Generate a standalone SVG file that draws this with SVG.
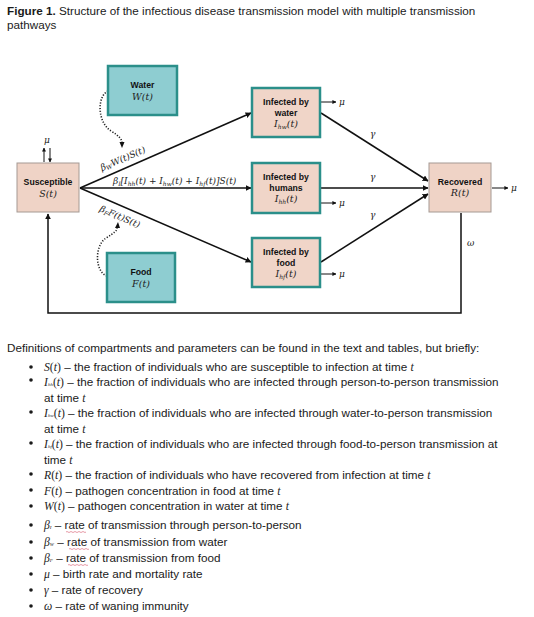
<svg xmlns="http://www.w3.org/2000/svg" width="534" height="617" viewBox="0 0 534 617">
<style>
.t{font-family:"Liberation Sans",Arial,sans-serif;font-size:11.7px;fill:#1a1a1a}
.b{font-weight:bold}
.lab{font-family:"Liberation Sans",Arial,sans-serif;font-size:8.7px;font-weight:bold;fill:#111;text-anchor:middle}
.m{font-family:"DejaVu Serif","Liberation Serif",serif;font-style:italic;font-size:9px;fill:#222}
.mb{font-family:"DejaVu Serif","Liberation Serif",serif;font-style:italic;font-size:9.5px;fill:#222;text-anchor:middle}
.mm{font-family:"Liberation Serif","DejaVu Serif",serif;font-style:italic;fill:#222}
.up{font-style:normal}
.sub{font-size:6px}
.sub2{font-size:5px}
.env{fill:#8ecdd1;stroke:#2b8f8a;stroke-width:2.5}
.inf{fill:#f0d5c8;stroke:#2b8f8a;stroke-width:2.5}
.sr{fill:#efd3c6;stroke:#a59a94;stroke-width:1}
.e{fill:none;stroke:#111;stroke-width:1.5}
.e1{fill:none;stroke:#111;stroke-width:1}
.dot{fill:none;stroke:#222;stroke-width:1.6;stroke-dasharray:1.2 1.6}
.sq{fill:none;stroke:#e08090;stroke-width:0.8}
</style>
<defs>
<marker id="ah" viewBox="0 0 10 10" refX="9" refY="5" markerWidth="4" markerHeight="4" orient="auto" markerUnits="strokeWidth">
<path d="M0,0 L10,5 L0,10 z" fill="#111"/>
</marker>
<marker id="ahs" viewBox="0 0 10 10" refX="9" refY="5" markerWidth="4" markerHeight="4" orient="auto">
<path d="M0,0 L10,5 L0,10 z" fill="#111"/>
</marker>
</defs>
<rect width="534" height="617" fill="#fff"/>

<text class="t" x="7" y="15"><tspan class="b">Figure 1.</tspan> Structure of the infectious disease transmission model with multiple transmission</text>
<text class="t" x="7" y="29">pathways</text>

<g id="connectors">
<line class="e" x1="80" y1="188" x2="251" y2="113" marker-end="url(#ah)"/>
<line class="e" x1="80" y1="188" x2="251" y2="188" marker-end="url(#ah)"/>
<line class="e" x1="80" y1="188" x2="251" y2="262" marker-end="url(#ah)"/>
<line class="e" x1="321" y1="113" x2="428" y2="181" marker-end="url(#ah)"/>
<line class="e" x1="321" y1="188" x2="428" y2="188" marker-end="url(#ah)"/>
<line class="e" x1="321" y1="262" x2="428" y2="194" marker-end="url(#ah)"/>
<polyline class="e" points="461,213 461,313 48,313 48,214" marker-end="url(#ah)"/>
<line class="e1" x1="321" y1="102" x2="336" y2="102" marker-end="url(#ahs)"/>
<line class="e1" x1="321" y1="203" x2="336" y2="203" marker-end="url(#ahs)"/>
<line class="e1" x1="321" y1="274" x2="336" y2="274" marker-end="url(#ahs)"/>
<line class="e1" x1="492" y1="188" x2="508" y2="188" marker-end="url(#ahs)"/>
<line class="e1" x1="44" y1="162" x2="44" y2="148" marker-end="url(#ahs)"/>
<line class="e1" x1="50" y1="148" x2="50" y2="162" marker-end="url(#ahs)"/>
<path class="dot" d="M108,91 C97,96 97,122 111,131 C119,136 122,139 122,143"/>
<path d="M119.5,142 L124.5,142 L122,148 z" fill="#111"/>
<path class="dot" d="M107,276 C95,272 94,246 106,238 C114,233 117,231 117,228"/>
<path d="M115,228 L120,228 L118,222 z" fill="#111"/>
<text class="m" x="511" y="191">μ</text>
<text class="m" x="339" y="105">μ</text>
<text class="m" x="339" y="206">μ</text>
<text class="m" x="339" y="277">μ</text>
<text class="m" x="44" y="143">μ</text>
<text class="m" x="370" y="137">γ</text>
<text class="m" x="370" y="180">γ</text>
<text class="m" x="370" y="218">γ</text>
<text class="m" x="467" y="246">ω</text>
<text class="m" transform="translate(102,171) rotate(-23.4)">β<tspan class="sub" dy="1.5">W</tspan><tspan dy="-1.5">W(t)S(t)</tspan></text>
<text class="m" x="113" y="184">β<tspan class="sub" dy="1.5">I</tspan><tspan dy="-1.5">[I</tspan><tspan class="sub" dy="1.5">hh</tspan><tspan dy="-1.5">(t) + I</tspan><tspan class="sub" dy="1.5">hw</tspan><tspan dy="-1.5">(t) + I</tspan><tspan class="sub" dy="1.5">hf</tspan><tspan dy="-1.5">(t)]S(t)</tspan></text>
<text class="m" transform="translate(99,211) rotate(23.3)">β<tspan class="sub" dy="1.5">F</tspan><tspan dy="-1.5">F(t)S(t)</tspan></text>
</g>

<g id="water">
<rect class="env" x="108" y="66" width="69" height="49"/>
<text class="lab" x="142.5" y="88">Water</text>
<text class="mb" x="142.5" y="100">W(t)</text>
</g>
<g id="food">
<rect class="env" x="107" y="253" width="68" height="49"/>
<text class="lab" x="141" y="275">Food</text>
<text class="mb" x="141" y="287">F(t)</text>
</g>
<g id="susceptible">
<rect class="sr" x="17" y="163" width="62" height="49"/>
<text class="lab" x="48" y="185">Susceptible</text>
<text class="mb" x="48" y="197">S(t)</text>
</g>
<g id="inf-water">
<rect class="inf" x="252" y="88" width="68" height="49"/>
<text class="lab" x="286" y="105">Infected by</text>
<text class="lab" x="286" y="116">water</text>
<text class="mb" x="286" y="127">I<tspan class="sub" dy="1.5">hw</tspan><tspan dy="-1.5">(t)</tspan></text>
</g>
<g id="inf-humans">
<rect class="inf" x="252" y="163" width="68" height="50"/>
<text class="lab" x="286" y="180">Infected by</text>
<text class="lab" x="286" y="191">humans</text>
<text class="mb" x="286" y="202">I<tspan class="sub" dy="1.5">hh</tspan><tspan dy="-1.5">(t)</tspan></text>
</g>
<g id="inf-food">
<rect class="inf" x="252" y="238" width="68" height="49"/>
<text class="lab" x="286" y="255">Infected by</text>
<text class="lab" x="286" y="266">food</text>
<text class="mb" x="286" y="277">I<tspan class="sub" dy="1.5">hf</tspan><tspan dy="-1.5">(t)</tspan></text>
</g>
<g id="recovered">
<rect class="sr" x="429" y="163" width="62" height="49"/>
<text class="lab" x="460" y="185">Recovered</text>
<text class="mb" x="460" y="196">R(t)</text>
</g>

<g id="definitions">
<text class="t" x="7" y="352">Definitions of compartments and parameters can be found in the text and tables, but briefly:</text>
<g fill="#1a1a1a">
<circle cx="31" cy="367" r="1.8"/><circle cx="31" cy="380" r="1.8"/><circle cx="31" cy="412" r="1.8"/>
<circle cx="31" cy="443" r="1.8"/><circle cx="31" cy="474" r="1.8"/><circle cx="31" cy="490" r="1.8"/>
<circle cx="31" cy="506" r="1.8"/><circle cx="31" cy="525" r="1.8"/><circle cx="31" cy="542" r="1.8"/>
<circle cx="31" cy="558" r="1.8"/><circle cx="31" cy="574" r="1.8"/><circle cx="31" cy="590" r="1.8"/>
<circle cx="31" cy="606" r="1.8"/>
</g>
<text class="t" x="44" y="371"><tspan class="mm">S</tspan><tspan class="mm up">(</tspan><tspan class="mm">t</tspan><tspan class="mm up">)</tspan> – the fraction of individuals who are susceptible to infection at time <tspan class="mm">t</tspan></text>
<text class="t" x="44" y="386"><tspan class="mm">I</tspan><tspan class="mm sub2">hh</tspan><tspan class="mm up">(</tspan><tspan class="mm">t</tspan><tspan class="mm up">)</tspan> – the fraction of individuals who are infected through person-to-person transmission</text>
<text class="t" x="44" y="402">at time <tspan class="mm">t</tspan></text>
<text class="t" x="44" y="417"><tspan class="mm">I</tspan><tspan class="mm sub2">hw</tspan><tspan class="mm up">(</tspan><tspan class="mm">t</tspan><tspan class="mm up">)</tspan> – the fraction of individuals who are infected through water-to-person transmission</text>
<text class="t" x="44" y="433">at time <tspan class="mm">t</tspan></text>
<text class="t" x="44" y="448"><tspan class="mm">I</tspan><tspan class="mm sub2">hf</tspan><tspan class="mm up">(</tspan><tspan class="mm">t</tspan><tspan class="mm up">)</tspan> – the fraction of individuals who are infected through food-to-person transmission at</text>
<text class="t" x="44" y="464">time <tspan class="mm">t</tspan></text>
<text class="t" x="44" y="479"><tspan class="mm">R</tspan><tspan class="mm up">(</tspan><tspan class="mm">t</tspan><tspan class="mm up">)</tspan> – the fraction of individuals who have recovered from infection at time <tspan class="mm">t</tspan></text>
<text class="t" x="44" y="495"><tspan class="mm">F</tspan><tspan class="mm up">(</tspan><tspan class="mm">t</tspan><tspan class="mm up">)</tspan> – pathogen concentration in food at time <tspan class="mm">t</tspan></text>
<text class="t" x="44" y="510"><tspan class="mm">W</tspan><tspan class="mm up">(</tspan><tspan class="mm">t</tspan><tspan class="mm up">)</tspan> – pathogen concentration in water at time <tspan class="mm">t</tspan></text>
<text class="t" x="44" y="529"><tspan class="mm">β</tspan><tspan class="mm sub2">I</tspan> – rate of transmission through person-to-person</text>
<text class="t" x="44" y="546"><tspan class="mm">β</tspan><tspan class="mm sub2">W</tspan> – rate of transmission from water</text>
<text class="t" x="44" y="562"><tspan class="mm">β</tspan><tspan class="mm sub2">F</tspan> – rate of transmission from food</text>
<text class="t" x="44" y="578"><tspan class="mm">μ</tspan> – birth rate and mortality rate</text>
<text class="t" x="44" y="594"><tspan class="mm">γ</tspan> – rate of recovery</text>
<text class="t" x="44" y="610"><tspan class="mm">ω</tspan> – rate of waning immunity</text>
<path class="sq" d="M66,532 q1,-1 2,0 t2,0 t2,0 t2,0 t2,0 t2,0 t2,0 t2,0 t2,0 t2,0"/>
<path class="sq" d="M69,549 q1,-1 2,0 t2,0 t2,0 t2,0 t2,0 t2,0 t2,0 t2,0 t2,0 t2,0"/>
<path class="sq" d="M68,565 q1,-1 2,0 t2,0 t2,0 t2,0 t2,0 t2,0 t2,0 t2,0 t2,0 t2,0"/>
</g>
</svg>
